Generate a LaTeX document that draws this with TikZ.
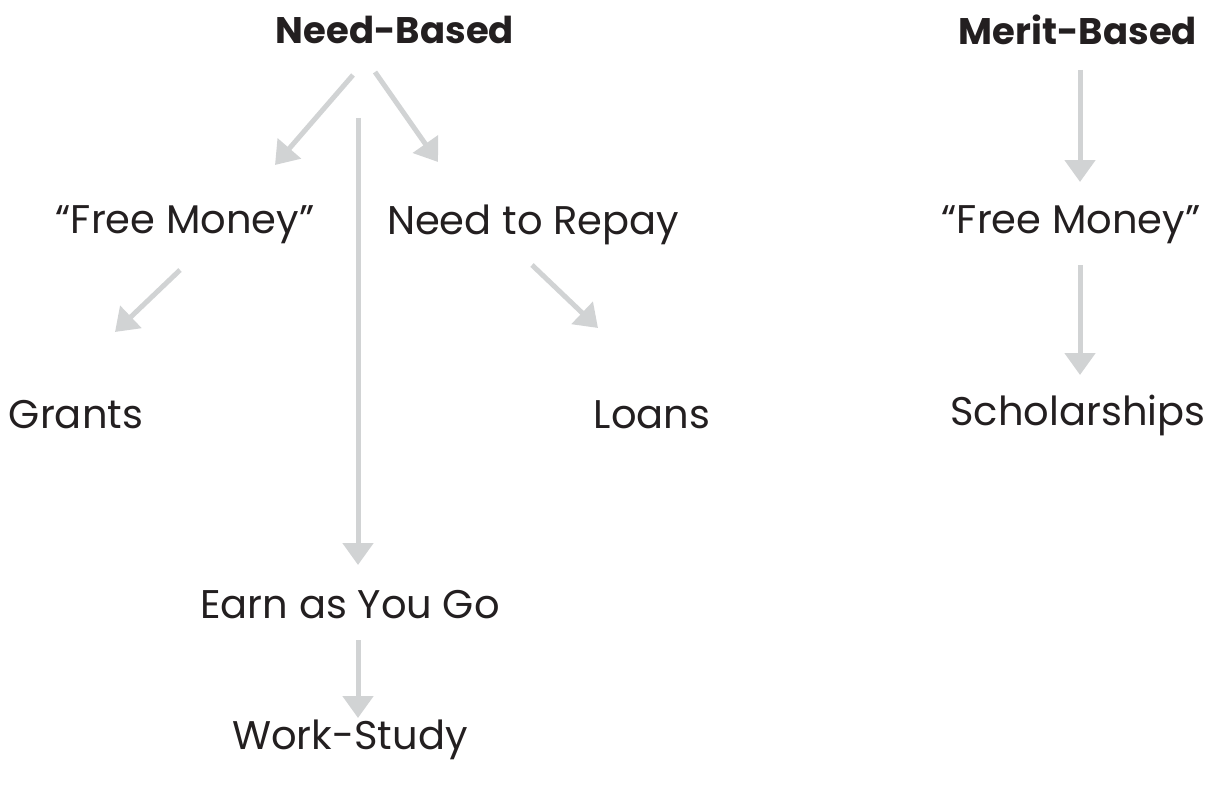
\documentclass[tikz,border=0pt]{standalone}
\usepackage{fontspec}
\setmainfont{Poppins}
\usetikzlibrary{arrows.meta}
\definecolor{arrgray}{HTML}{D1D3D4}
\definecolor{txt}{HTML}{231F20}
\begin{document}
\begin{tikzpicture}[x=1pt,y=-1pt,line join=round,
	lab/.style={inner sep=0pt,text=txt,font=\fontsize{40}{44}\selectfont},
	head/.style={lab,font=\fontsize{37}{40}\selectfont\bfseries},
	arr/.style={draw=arrgray,line width=5pt,-{Triangle[width=30pt,length=22pt]}}]
	\useasboundingbox (0,0) rectangle (1207,789);
	% nodes
	\node[head] (need) at (395,30) {Need-Based};
	\node[head] (merit) at (1078,30) {Merit-Based};
	\node[lab] (freeL) at (185,225) {``Free Money''};
	\node[lab] (repay) at (533,225) {Need to Repay};
	\node[lab] (freeR) at (1071,225) {``Free Money''};
	\node[lab] (grants) at (76,415) {Grants};
	\node[lab] (loans) at (652,415) {Loans};
	\node[lab] (schol) at (1078,415) {Scholarships};
	\node[lab] (earn) at (350,605) {Earn as You Go};
	\node[lab] (work) at (350,740) {Work-Study};
	% arrows
	\draw[arr] ([shift={(-42,45)}]need.center) -- ([shift={(90,-60)}]freeL.center);
	\draw[arr] ([shift={(-20,42)}]need.center) -- ([shift={(-95,-63)}]repay.center);
	\draw[arr] ([shift={(-37,88)}]need.center) -- ([shift={(8,-40)}]earn.center);
	\draw[arr] ([shift={(-5,45)}]freeL.center) -- ([shift={(39,-83)}]grants.center);
	\draw[arr] ([shift={(-1,40)}]repay.center) -- ([shift={(-54,-87)}]loans.center);
	\draw[arr] ([shift={(2,40)}]merit.center) -- ([shift={(9,-43)}]freeR.center);
	\draw[arr] ([shift={(9,40)}]freeR.center) -- ([shift={(2,-40)}]schol.center);
	\draw[arr] ([shift={(8,35)}]earn.center) -- ([shift={(8,-22)}]work.center);
\end{tikzpicture}
\end{document}
